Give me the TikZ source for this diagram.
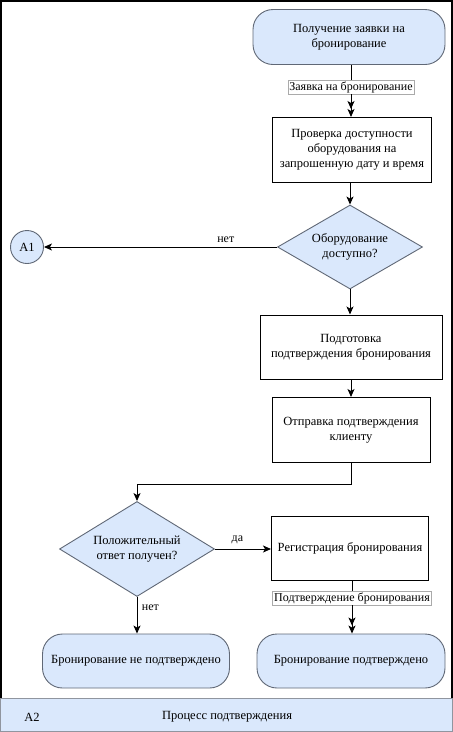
\documentclass[tikz,border=0pt]{standalone}
\usepackage{fontspec}
\setmainfont{Liberation Serif}
\usetikzlibrary{arrows.meta,shapes.geometric}
\definecolor{palefill}{RGB}{218,232,252}
\definecolor{edgegray}{RGB}{96,104,118}
\definecolor{labelgray}{RGB}{170,170,170}

\tikzset{
  txt/.style={font=\fontsize{12.5}{15}\selectfont, align=center},
  terminal/.style={txt, draw=edgegray, fill=palefill, line width=0.9pt, rounded corners=20pt, inner sep=2pt},
  process/.style={txt, draw=black, line width=1pt, inner sep=2pt},
  decision/.style={txt, diamond, draw=edgegray, fill=palefill, line width=0.9pt, inner sep=0pt},
  connector/.style={circle, draw=edgegray, fill=palefill, line width=0.9pt, minimum size=33pt, inner sep=0pt, font=\fontsize{12.5}{15}\selectfont},
  flowlabel/.style={draw=labelgray, fill=white, line width=0.5pt, inner sep=1.5pt, font=\fontsize{12}{14}\selectfont},
  edgetext/.style={font=\fontsize{12}{14}\selectfont},
  flow/.style={line width=1pt, -{Stealth[length=8pt,width=7pt,inset=2pt]}},
  flowtwin/.style={line width=1pt, -{Stealth[length=8pt,width=7pt,inset=2pt]Stealth[length=8pt,width=7pt,inset=2pt]}},
  plain/.style={line width=1pt}
}

\begin{document}
\begin{tikzpicture}[x=1pt, y=-1pt, line cap=butt, line join=miter]
\useasboundingbox (0,0) rectangle (453,732);

% ---------- frame and title band ----------
\draw[black, line width=1.6pt] (1,698) -- (1,1) -- (452,1) -- (452,698);
\draw[edgegray!70, fill=palefill, line width=0.8pt] (0.5,698) rectangle (452.5,731.5);
\node[txt] (bandid) at (32,717) {A2};
\node[txt] (bandtitle) at (227,717) {Процесс подтверждения};

% ---------- nodes ----------
\node[terminal, minimum width=192pt, minimum height=55pt] (request) at (349,37)
  {Получение заявки на\\бронирование};
\node[flowlabel] (requestlbl) at (351,87) {Заявка на бронирование};
\node[process, minimum width=159pt, minimum height=65pt] (check) at (352,150)
  {Проверка доступности\\оборудования на\\запрошенную дату и время};
\node[decision, aspect=1.73, minimum width=145pt, minimum height=84pt] (avail) at (350,247)
  {Оборудование\\доступно?};
\node[connector] (aone) at (27,247) {A1};
\node[process, minimum width=182pt, minimum height=64pt] (prepare) at (351,347)
  {Подготовка\\подтверждения бронирования};
\node[process, minimum width=158pt, minimum height=65pt] (send) at (351,430)
  {Отправка подтверждения\\клиенту};
\node[decision, aspect=1.63, minimum width=155pt, minimum height=95pt] (answer) at (137,549)
  {Положительный\\ответ получен?};
\node[process, minimum width=157pt, minimum height=64pt] (register) at (350,548)
  {Регистрация бронирования};
\node[flowlabel] (confirmlbl) at (352,598) {Подтверждение бронирования};
\node[terminal, minimum width=187pt, minimum height=54pt] (rejected) at (136,661)
  {Бронирование не подтверждено};
\node[terminal, minimum width=188pt, minimum height=54pt] (confirmed) at (351,661)
  {Бронирование подтверждено};
\coordinate (turn) at (351,484);

% ---------- connectors ----------
\draw[plain] (request.south -| requestlbl) -- (requestlbl.north);
\draw[flowtwin] (requestlbl.south) -- (requestlbl.south |- check.north);
\draw[flow] (check.south -| avail.north) -- (avail.north);
\draw[flow] (avail.west) -- (aone.east) node[edgetext, pos=0.22, above=1pt] {нет};
\draw[flow] (avail.south) -- (avail.south |- prepare.north);
\draw[flow] (prepare.south) -- (send.north);
\draw[flow] (send.south) -- (turn) -| (answer.north);
\draw[flow] (answer.east) -- (answer.east -| register.west) node[edgetext, pos=0.4, above=1pt] {да};
\draw[flow] (answer.south) -- (answer.south |- rejected.north) node[edgetext, pos=0.3, right=1pt] {нет};
\draw[plain] (register.south -| confirmlbl) -- (confirmlbl.north);
\draw[flowtwin] (confirmlbl.south) -- (confirmlbl.south |- confirmed.north);

\end{tikzpicture}
\end{document}
